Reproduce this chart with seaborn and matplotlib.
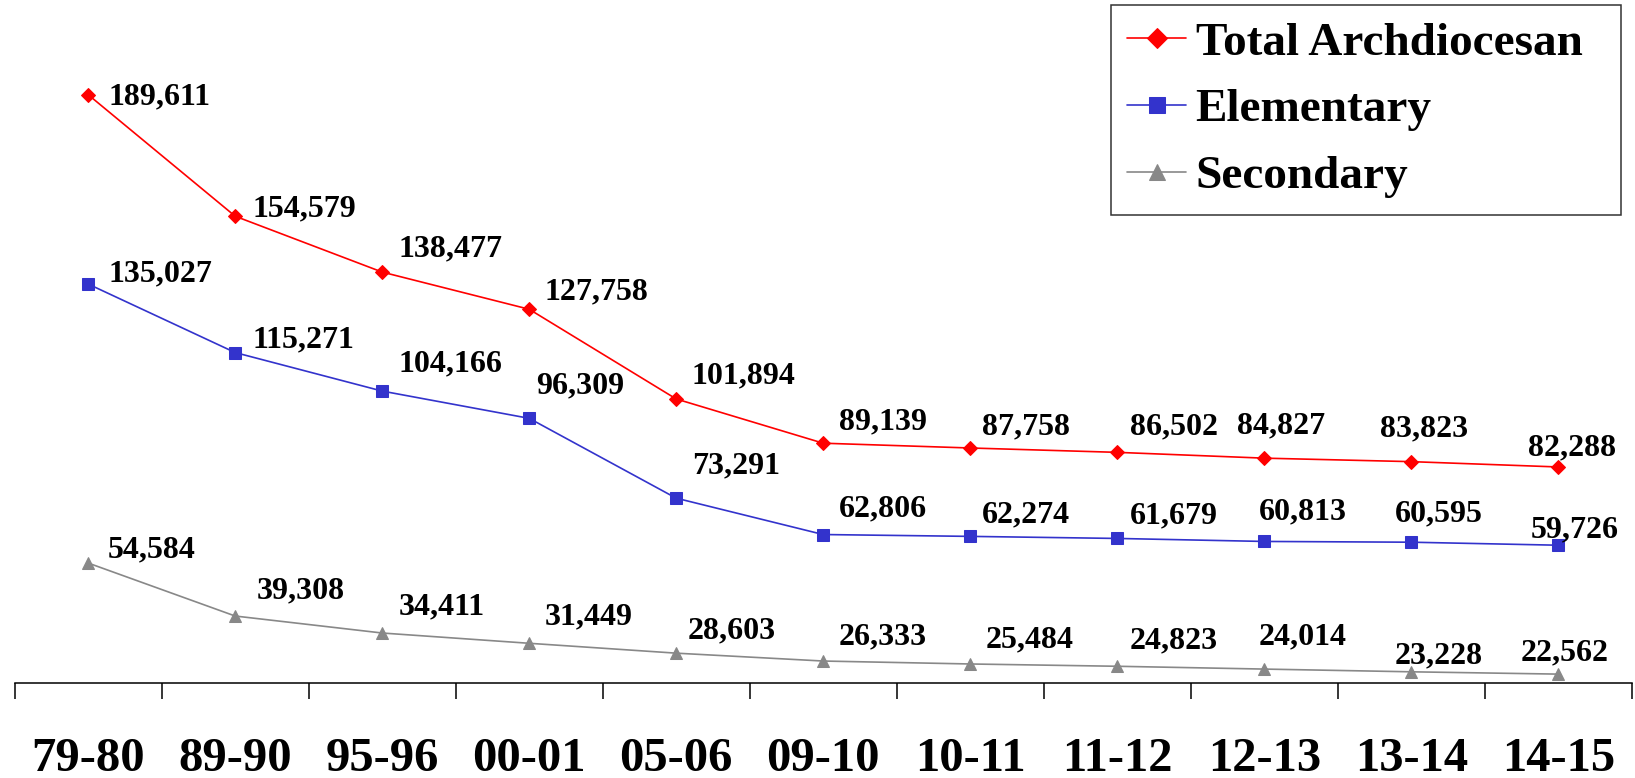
import matplotlib
matplotlib.use("Agg")
import matplotlib.pyplot as plt
import seaborn as sns
import pandas as pd
import numpy as np

categories = ["79-80", "89-90", "95-96", "00-01", "05-06", "09-10",
              "10-11", "11-12", "12-13", "13-14", "14-15"]
total = [189611, 154579, 138477, 127758, 101894, 89139, 87758, 86502, 84827, 83823, 82288]
elementary = [135027, 115271, 104166, 96309, 73291, 62806, 62274, 61679, 60813, 60595, 59726]
secondary = [54584, 39308, 34411, 31449, 28603, 26333, 25484, 24823, 24014, 23228, 22562]
series_names = ["Total Archdiocesan", "Elementary", "Secondary"]

# label offsets (display px: dx to left edge, dy downward)
off_total = [(19, 2), (17, -7), (16, -22), (15, -17), (15, -22), (15, -20), (11, -20),
             (12, -24), (-26, -31), (-30, -31), (-29, -18)]
off_elem = [(19, -10), (17, -12), (16, -26), (7, -31), (15, -31), (15, -25), (11, -21),
            (12, -22), (-5, -28), (-16, -27), (-26, -15)]
off_sec = [(19, -13), (21, -24), (16, -25), (15, -25), (11, -21), (15, -23), (15, -23),
           (12, -24), (-5, -31), (-16, -15), (-36, -20)]

sns.set_style("white")
plt.rcParams["font.family"] = ["Liberation Serif", "DejaVu Serif"]
plt.rcParams["font.weight"] = "bold"
plt.rcParams["text.color"] = "black"
plt.rcParams["xtick.color"] = "black"
plt.rcParams["xtick.labelcolor"] = "black"

fig = plt.figure(figsize=(16.35, 7.78), dpi=100)
ax = fig.add_axes([14.7 / 1635, 1 - 683 / 778, 1617 / 1635, (683 - 58.7) / 778])

styles = [
    dict(color="#FF0000", marker="D", ms=7.6),
    dict(color="#3333CC", marker="s", ms=9),
    dict(color="#888888", marker="^", ms=9),
]
x = np.arange(len(categories))
all_vals = [total, elementary, secondary]
all_offs = [off_total, off_elem, off_sec]
scale = 1635 / 1568
for name, vals, st, offs in zip(series_names, all_vals, styles, all_offs):
    df = pd.DataFrame({"x": x, "y": vals})
    sns.lineplot(data=df, x="x", y="y", ax=ax, color=st["color"], marker=st["marker"],
                 markersize=st["ms"], markeredgecolor=st["color"], markerfacecolor=st["color"],
                 linewidth=1.2, label=name)
    for xi, v, (dx, dy) in zip(x, vals, offs):
        ax.annotate(f"{v:,}", (xi, v), xytext=(dx * scale, -dy * scale),
                    textcoords="offset pixels", ha="left", va="center",
                    fontsize=23, fontweight="bold", color="black")

ax.set_xlim(-0.5, len(categories) - 0.5)
ax.set_ylim(20000, 200000)
ax.set_xticks(x)
ax.set_xticklabels(categories, fontsize=35, fontweight="bold", color="black")
ax.set_xticks(np.arange(len(categories) + 1) - 0.5, minor=True)
ax.tick_params(axis="x", which="major", length=0, pad=39, bottom=True)
ax.tick_params(axis="x", which="minor", length=11.5, width=1.1, direction="out",
               color="black", bottom=True)
ax.set_yticks([])
ax.set_xlabel("")
ax.set_ylabel("")
for s in ["left", "right", "top"]:
    ax.spines[s].set_visible(False)
ax.spines["bottom"].set_color("black")
ax.spines["bottom"].set_linewidth(1.1)

lx0 = 1110.5 / 1635
lx1 = 1621.4 / 1635
ltop = 1 - 5.2 / 778
leg = ax.legend(loc="upper left", bbox_to_anchor=(lx0, 0, lx1 - lx0, ltop),
                bbox_transform=fig.transFigure, mode="expand", fontsize=34, frameon=True,
                fancybox=False, handlelength=1.25, handletextpad=0.2, labelspacing=0.5,
                borderpad=0.35, borderaxespad=0, markerscale=1.35)
leg.get_frame().set_edgecolor("black")
leg.get_frame().set_linewidth(1.1)
for t in leg.get_texts():
    t.set_fontweight("bold")
    t.set_color("black")

fig.savefig("out.png", dpi=100)
